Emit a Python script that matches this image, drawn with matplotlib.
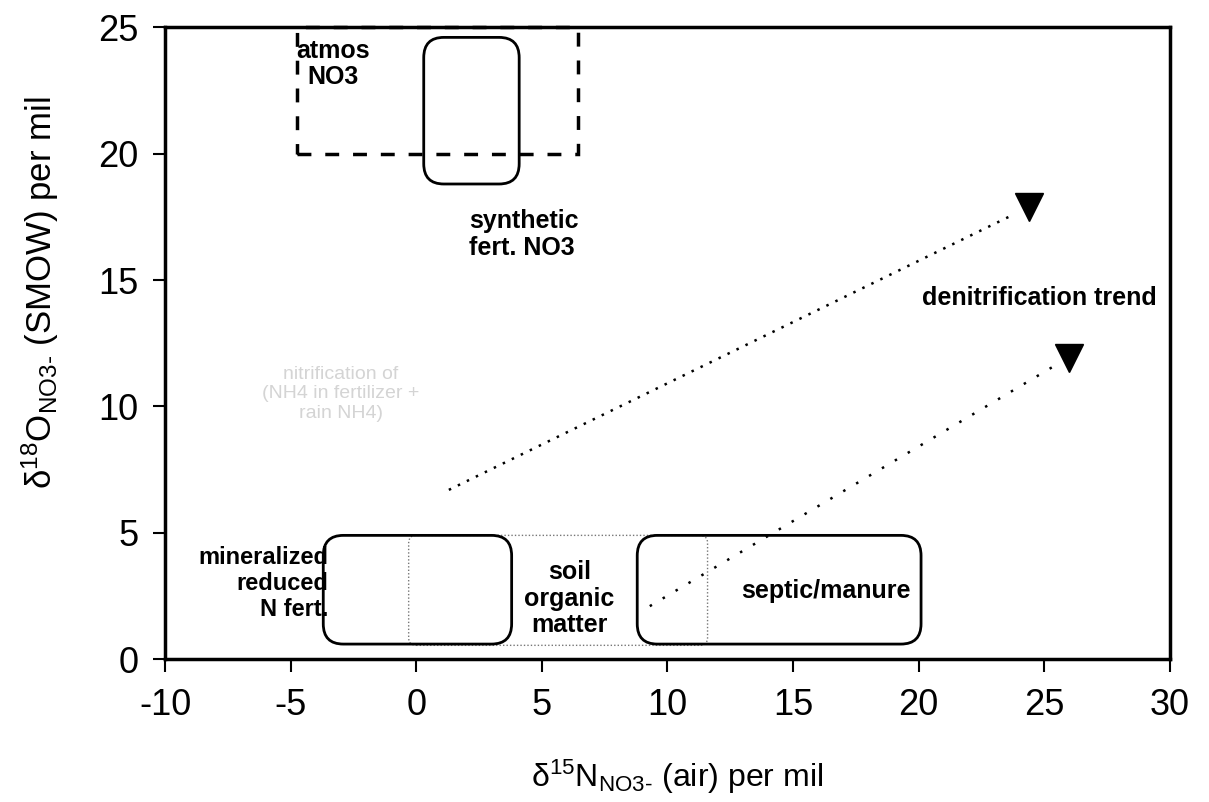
import matplotlib
matplotlib.use("Agg")
import matplotlib.pyplot as plt
from matplotlib.patches import Rectangle, FancyBboxPatch

plt.rcParams['font.family'] = ['Liberation Sans', 'DejaVu Sans']
plt.rcParams['axes.unicode_minus'] = False

# source boxes: (x0, x1, y0, y1) in per mil
atmos_box = (-4.75, 6.45, 20.0, 25.0)
synth_box = (0.3, 4.1, 18.8, 24.6)
mineral_box = (-3.7, 3.8, 0.6, 4.9)
soil_box = (-0.3, 11.6, 0.55, 4.9)
septic_box = (8.8, 20.1, 0.6, 4.9)

# denitrification trend lines (start -> end) and arrow heads
trend1_x = [1.3, 23.8]
trend1_y = [6.7, 17.6]
trend2_x = [9.3, 25.4]
trend2_y = [2.1, 11.6]
head_x = [24.4, 26.0]
head_y = [17.9, 11.9]

xticks = [-10, -5, 0, 5, 10, 15, 20, 25, 30]
yticks = [0, 5, 10, 15, 20, 25]

fig = plt.figure(figsize=(12.09, 8.02), dpi=100)
ax = fig.add_axes([0.1365, 0.178, 0.831, 0.788])
ax.set_xlim(-10, 30)
ax.set_ylim(0, 25)
ax.set_xticks(xticks)
ax.set_yticks(yticks)
ax.tick_params(labelsize=26, length=9, width=1.5, direction='out')
ax.tick_params(axis='x', pad=12)
ax.tick_params(axis='y', pad=10)
for s in ax.spines.values():
    s.set_linewidth(2.5)


def rbox(b, ls='-', lw=2.0, color='black', r=0.8):
    x0, x1, y0, y1 = b
    p = FancyBboxPatch((x0, y0), x1 - x0, y1 - y0,
                       boxstyle="round,pad=0,rounding_size=%g" % r,
                       fill=False, ec=color, lw=lw, ls=ls, zorder=3)
    ax.add_patch(p)


# dashed atmos box
x0, x1, y0, y1 = atmos_box
ax.add_patch(Rectangle((x0, y0), x1 - x0, y1 - y0, fill=False, ec='black',
                       lw=2.5, ls=(0, (4, 4)), zorder=3, clip_on=False))
rbox(synth_box, lw=2.0)
rbox(soil_box, ls=(0, (1, 1.5)), lw=1.0, color='#777777', r=0.3)
rbox(mineral_box, lw=2.0)
rbox(septic_box, lw=2.0)

ax.plot(trend1_x, trend1_y, color='black', lw=1.8, ls=(0, (1, 3)), zorder=4)
ax.plot(trend2_x, trend2_y, color='black', lw=1.8, ls=(0, (1, 5)), zorder=4)
ax.plot(head_x, head_y, ls='none', marker='v', ms=20, color='black', zorder=5)

tkw = dict(fontsize=18, fontweight='bold', color='black', zorder=6)
ax.text(-3.3, 23.55, "atmos\nNO3", ha='center', va='center', linespacing=1.1, **tkw)
ax.text(2.1, 16.8, "synthetic\nfert. NO3", ha='left', va='center', linespacing=1.15, **tkw)
ax.text(24.8, 14.3, "denitrification trend", ha='center', va='center', **tkw)
ax.text(-3.5, 3.0, "mineralized\nreduced\nN fert.", ha='right', va='center',
        multialignment='right', linespacing=1.15, fontsize=17,
        fontweight='bold', color='black', zorder=6)
ax.text(6.1, 2.4, "soil\norganic\nmatter", ha='center', va='center', linespacing=1.15, **tkw)
ax.text(16.3, 2.7, "septic/manure", ha='center', va='center', **tkw)
ax.text(-3.0, 10.5, "nitrification of\n(NH4 in fertilizer +\nrain NH4)",
        ha='center', va='center', fontsize=14, color='#d4d4d4', zorder=2)

ax.set_xlabel("$\\mathregular{\\delta^{15}N_{NO3\u2010}}$ (air) per mil", fontsize=23)
ax.set_ylabel("$\\mathregular{\\delta^{18}O_{NO3\u2010}}$ (SMOW) per mil", fontsize=25)
ax.xaxis.set_label_coords(0.51, -0.155)
ax.yaxis.set_label_coords(-0.104, 0.58)

fig.savefig("out.png", dpi=100)
